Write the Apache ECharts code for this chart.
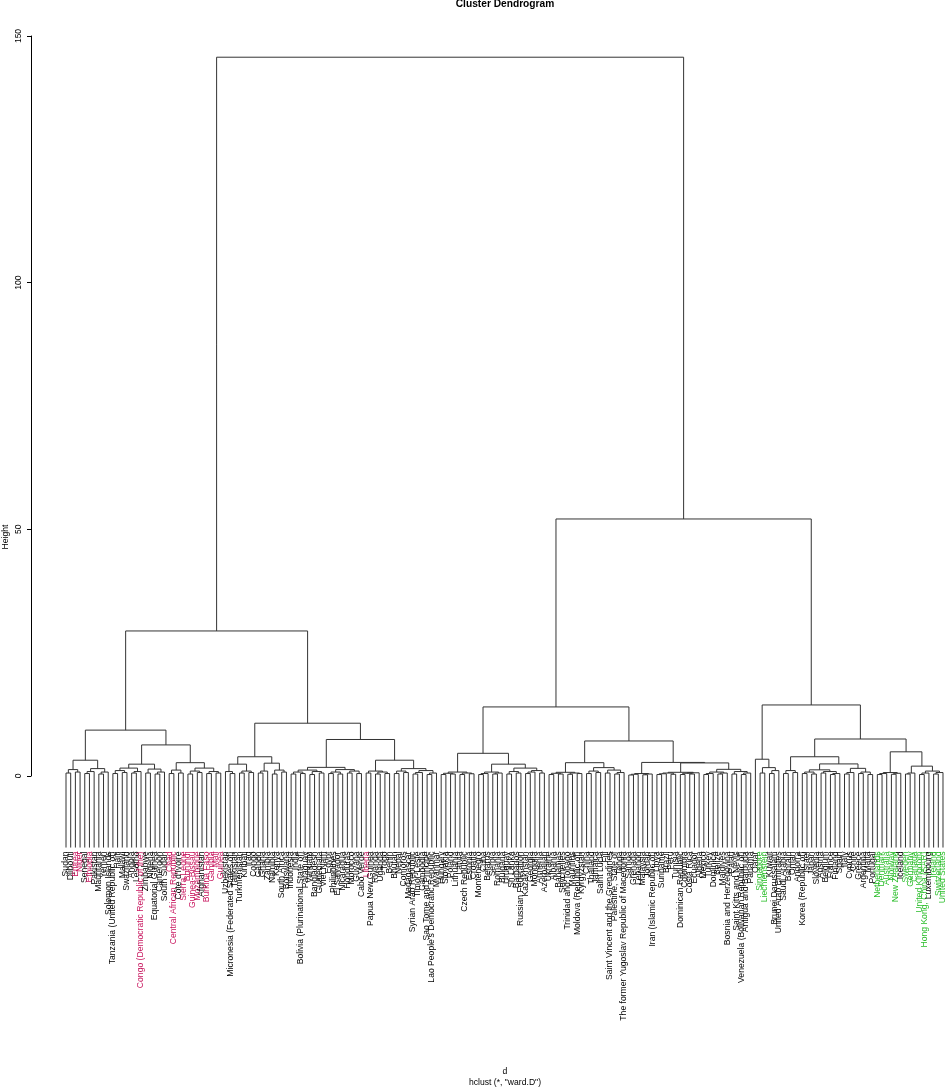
<!DOCTYPE html>
<html>
<head>
<meta charset="utf-8">
<script src="https://cdn.jsdelivr.net/npm/echarts@6/dist/echarts.min.js"></script>
<style>html,body{margin:0;padding:0;background:#fff}#chart{width:947px;height:1088px}</style>
</head>
<body>
<div id="chart"></div>
<script>
// ---- DATA ----
const leaves = [
"Sudan","Djibouti","Eritrea","Niger","Senegal","Ethiopia","Pakistan","Mauritania","Yemen","Solomon Islands",
"Tanzania (United Republic of)","Haiti","Malawi","Swaziland","Angola","Lesotho","Congo (Democratic Republic of the)","Zimbabwe","Nigeria","Equatorial Guinea",
"Cameroon","South Sudan","Chad","Central African Republic","Côte d'Ivoire","Sierra Leone","Burundi","Guinea-Bissau","Mozambique","Afghanistan",
"Burkina Faso","Gambia","Mali","Guinea","Uzbekistan","Micronesia (Federated States of)","Tajikistan","Turkmenistan","Kiribati","Iraq",
"Congo","Gabon","Ghana","Zambia","Namibia","Kenya","South Africa","Botswana","Indonesia","India",
"Bolivia (Plurinational State of)","Paraguay","Vanuatu","Bangladesh","Guatemala","Viet Nam","Egypt","Philippines","El Salvador","Nicaragua",
"Honduras","Morocco","Guyana","Cabo Verde","Liberia","Papua New Guinea","Rwanda","Uganda","Togo","Benin",
"Bhutan","Nepal","Comoros","Madagascar","Syrian Arab Republic","Timor-Leste","Cambodia","Sao Tome and Principe","Lao People's Democratic Republic","Myanmar",
"Hungary","Slovakia","Poland","Lithuania","Latvia","Czech Republic","Estonia","Croatia","Montenegro","Cuba",
"Belarus","Serbia","Romania","Bulgaria","Uruguay","Sri Lanka","Barbados","Russian Federation","Kazakhstan","Georgia",
"Mongolia","Armenia","Azerbaijan","Ukraine","Albania","Bahamas","Seychelles","Trinidad and Tobago","Mauritius","Moldova (Republic of)",
"Kyrgyzstan","China","Thailand","Jamaica","Saint Lucia","Fiji","Saint Vincent and the Grenadines","Palestine, State of","Tonga","The former Yugoslav Republic of Macedonia",
"Samoa","Grenada","Lebanon","Malaysia","Jordan","Iran (Islamic Republic of)","Libya","Suriname","Brazil","Peru",
"Tunisia","Dominican Republic","Colombia","Costa Rica","Ecuador","Algeria","Mexico","Turkey","Dominica","Belize",
"Maldives","Bosnia and Herzegovina","Palau","Saint Kitts and Nevis","Venezuela (Bolivarian Republic of)","Antigua and Barbuda","Panama","Qatar","Singapore","Liechtenstein",
"Kuwait","Brunei Darussalam","United Arab Emirates","Saudi Arabia","Bahrain","Oman","Andorra","Korea (Republic of)","Israel","Japan",
"Slovenia","Austria","Belgium","France","Finland","Spain","Italy","Cyprus","Chile","Greece",
"Argentina","Malta","Portugal","Netherlands","Denmark","Australia","Norway","New Zealand","Iceland","Sweden",
"Germany","Canada","United Kingdom","Hong Kong, China (SAR)","Luxembourg","Ireland","Switzerland","United States"
];

// bottom-15 and top-15 groups (coloured labels)
const lowGroup = ["Niger","Central African Republic","Eritrea","Chad","Burundi","Burkina Faso","Guinea","Sierra Leone",
  "Mozambique","Mali","Guinea-Bissau","Liberia","Congo (Democratic Republic of the)","Gambia","Ethiopia"];
const topGroup = ["Norway","Australia","Switzerland","Denmark","Netherlands","Germany","Ireland","United States",
  "Canada","New Zealand","Singapore","Hong Kong, China (SAR)","Liechtenstein","Sweden","United Kingdom"];

// merge topology: "*" = next leaf in order, "(a b)h" = merge of a and b at height h
const clusterLL = "((((* *)0.6 (* *)0.8)1.3 (((* *)0.5 *)0.9 ((* *)0.4 *)0.8)1.5)3.2 " +
  "(((((* *)0.5 (* *)0.7)1.1 ((* *)0.6 *)0.9)1.6 ((* *)0.6 ((* *)0.4 *)0.8)1.4)2.4 " +
  "(((* *)0.5 (* *)0.6)1.2 (((* *)0.4 (* *)0.7)1.0 ((* *)0.5 (* *)0.6)0.9)1.6)2.7)6.3)9.3";
const clusterLR = "((((* (* *)0.5)0.9 ((* *)0.6 (* *)0.7)1.0)2.4 (((* *)0.6 *)1.0 ((* *)0.4 (* *)0.8)1.2)2.6)3.9 " +
  "(((((* *)0.4 (* *)0.5)0.8 ((* *)0.3 (* *)0.6)0.9)1.2 (((* *)0.5 (* *)0.4)0.8 ((* *)0.6 (* *)0.5)1.0)1.3)1.75 " +
  "(((* *)0.6 ((* *)0.4 (* *)0.5)0.8)1.0 (((* *)0.5 (* *)0.7)1.0 (((* *)0.4 *)0.7 ((* *)0.3 *)0.6)1.1)1.5)3.2)7.4)10.7";
const clusterRL = "(((((* *)0.3 (* *)0.4)0.55 ((* *)0.3 (* *)0.45)0.6)0.8 " +
  "((((* *)0.3 *)0.5 ((* *)0.4 *)0.6)0.8 (((* *)0.4 (* *)0.6)0.9 (((* *)0.5 *)0.8 (* *)0.6)1.1)1.6)2.4)4.6 " +
  "(((((* *)0.3 (* *)0.4)0.55 ((* *)0.35 (* *)0.5)0.6)0.75 (((* *)0.5 (* *)0.7)1.0 ((* *)0.6 ((* *)0.4 *)0.7)1.2)1.7)2.7 " +
  "((((* *)0.2 *)0.35 ((* *)0.25 *)0.4)0.5 " +
  "(((((* *)0.3 *)0.45 (* *)0.35)0.6 (((* *)0.3 (* *)0.4)0.55 *)0.65)0.75 " +
  "((((* *)0.3 *)0.5 ((* *)0.4 *)0.6)0.8 ((* *)0.4 ((* *)0.3 *)0.6)0.9)1.35)2.65)2.75)7.1)14.0";
const clusterRR = "((* ((* *)0.6 ((* *)0.5 *)1.1)1.7)3.4 " +
  "((((* *)0.5 (* *)0.7)1.1 ((((* *)0.5 (* *)0.4)0.8 ((* *)0.6 ((* *)0.3 *)0.5)0.9)1.25 " +
  "(((* *)0.4 *)0.7 ((* *)0.5 (* *)0.3)0.8)1.55)2.45)3.9 " +
  "((((* *)0.3 *)0.5 ((* *)0.35 *)0.55)0.7 (((* *)0.4 *)0.6 (((* *)0.3 *)0.6 ((* *)0.4 *)0.7)1.0)2.0)4.9)7.5)14.4";
const topHeights = [29.4, 52.1, 145.7];   // A-merge, B-merge, root
const leafBottom = -14.5;                  // where leaf branches end
const yTicks = [0, 50, 100, 150];

const topology = "((" + clusterLL + " " + clusterLR + ")" + topHeights[0] + " (" +
  clusterRL + " " + clusterRR + ")" + topHeights[1] + ")" + topHeights[2];

// ---- parse into merge segments ----
function buildMerges(str) {
  const tokens = str.match(/\(|\)|\*|\d+(?:\.\d+)?/g);
  let pos = 0, leafIdx = 0;
  const merges = [];
  function node() {
    const t = tokens[pos++];
    if (t === '*') { const i = leafIdx++; return { x: i, h: leafBottom }; }
    const a = node();
    const b = node();
    pos++; // ')'
    const h = parseFloat(tokens[pos++]);
    merges.push([a.x, a.h, b.x, b.h, h]);
    return { x: (a.x + b.x) / 2, h: h };
  }
  node();
  return { merges: merges, count: leafIdx };
}
const built = buildMerges(topology);
if (built.count !== leaves.length) console.error('leaf count mismatch', built.count, leaves.length);

const RED = '#C8155E', GREEN = '#2BBE2B';
function labelColor(name) {
  if (lowGroup.indexOf(name) >= 0) return RED;
  if (topGroup.indexOf(name) >= 0) return GREEN;
  return '#000';
}

const FONT = '"Liberation Sans", Arial, Helvetica, sans-serif';
const chart = echarts.init(document.getElementById('chart'), null, { renderer: 'canvas' });
chart.setOption({
  animation: false,
  backgroundColor: '#fff',
  grid: { left: 31, right: 0, top: 36, bottom: 312, containLabel: false },
  xAxis: { type: 'value', min: -7.463, max: 187.853, show: false },
  yAxis: {
    type: 'value', min: yTicks[0], max: yTicks[yTicks.length - 1], interval: 50,
    axisLine: { show: true, onZero: false, lineStyle: { color: '#000', width: 1 } },
    axisTick: { show: true, length: 4, lineStyle: { color: '#000' } },
    axisLabel: { rotate: 90, fontSize: 8.5, color: '#000', margin: 8, fontFamily: FONT },
    splitLine: { show: false }
  },
  series: [
    {
      type: 'custom', clip: false, silent: true,
      data: built.merges,
      renderItem: function (params, api) {
        const p1 = api.coord([api.value(0), api.value(1)]);
        const p1t = api.coord([api.value(0), api.value(4)]);
        const p2t = api.coord([api.value(2), api.value(4)]);
        const p2 = api.coord([api.value(2), api.value(3)]);
        return { type: 'polyline', shape: { points: [p1, p1t, p2t, p2] },
          style: { stroke: '#333', lineWidth: 1, fill: null } };
      }
    },
    {
      type: 'custom', clip: false, silent: true,
      data: leaves.map(function (n, i) { return [i, leafBottom]; }),
      renderItem: function (params, api) {
        const p = api.coord([api.value(0), api.value(1)]);
        const name = leaves[params.dataIndex];
        return { type: 'text', x: p[0], y: p[1] + 4, rotation: Math.PI / 2,
          style: { text: name, fill: labelColor(name), font: '8.6px ' + FONT,
            align: 'right', verticalAlign: 'middle' } };
      }
    }
  ],
  graphic: [
    { type: 'text', x: 505, y: 4, style: { text: 'Cluster Dendrogram', font: 'bold 10.2px ' + FONT, fill: '#000', align: 'center', verticalAlign: 'middle' } },
    { type: 'text', x: 6, y: 537, rotation: Math.PI / 2, style: { text: 'Height', font: '8.6px ' + FONT, fill: '#000', align: 'center', verticalAlign: 'middle' } },
    { type: 'text', x: 505, y: 1072, style: { text: 'd', font: '8.6px ' + FONT, fill: '#000', align: 'center', verticalAlign: 'middle' } },
    { type: 'text', x: 505, y: 1083, style: { text: 'hclust (*, "ward.D")', font: '8.6px ' + FONT, fill: '#000', align: 'center', verticalAlign: 'middle' } }
  ]
});
</script>
</body>
</html>
